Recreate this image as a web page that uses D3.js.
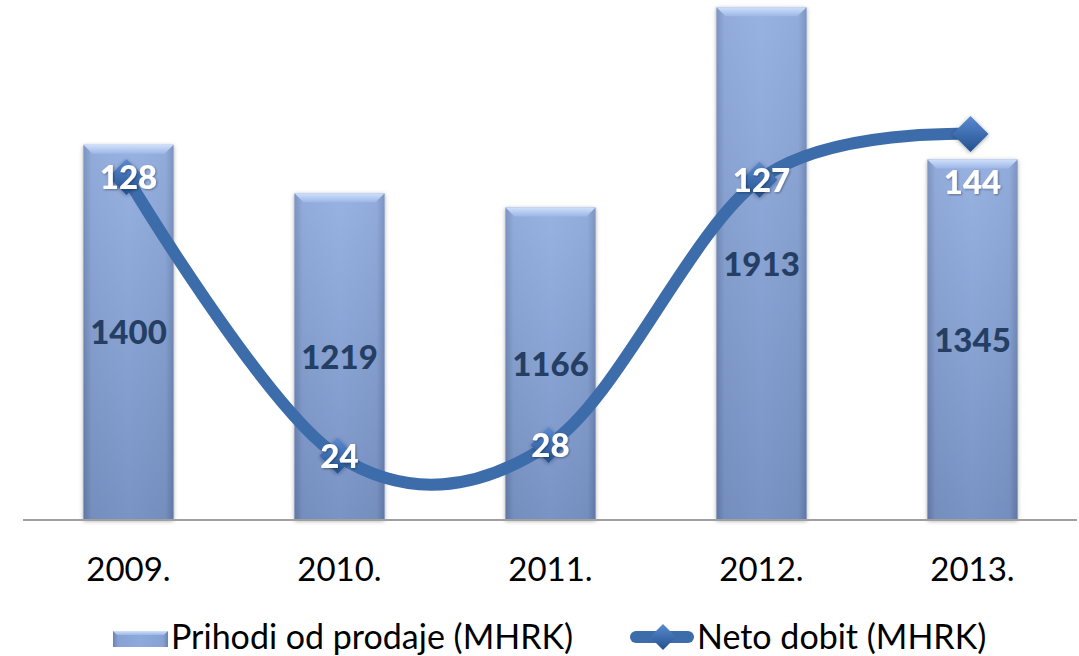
<!DOCTYPE html>
<html>
<head>
<meta charset="utf-8">
<script src="https://cdn.jsdelivr.net/npm/d3@7"></script>
<style>
  body { margin: 0; background: #fff; }
  text { font-family: Lato, "Open Sans", sans-serif; }
</style>
</head>
<body>
<script>
// chart data
const years = ["2009.", "2010.", "2011.", "2012.", "2013."];
const prihodi = [1400, 1219, 1166, 1913, 1345];
const netoDobit = [128, 24, 28, 127, 144];
const legendLabels = ["Prihodi od prodaje (MHRK)", "Neto dobit (MHRK)"];

const W = 1079, H = 656;
const svg = d3.select("body").append("svg")
    .attr("width", W)
    .attr("height", H);

const defs = svg.append("defs");

// side shading of the bars
const gSide = defs.append("linearGradient").attr("id", "barSide")
    .attr("x1", "0").attr("x2", "1").attr("y1", "0").attr("y2", "0");
gSide.append("stop").attr("offset", "0").attr("stop-color", "#6a82b0");
gSide.append("stop").attr("offset", "0.09").attr("stop-color", "#86a1d2");
gSide.append("stop").attr("offset", "0.5").attr("stop-color", "#8ea9dc");
gSide.append("stop").attr("offset", "0.91").attr("stop-color", "#86a1d2");
gSide.append("stop").attr("offset", "1").attr("stop-color", "#6a82b0");

// vertical darkening towards the base
const gVert = defs.append("linearGradient").attr("id", "barVert")
    .attr("x1", "0").attr("x2", "0").attr("y1", "0").attr("y2", "1");
gVert.append("stop").attr("offset", "0").attr("stop-color", "#b5cbf2").attr("stop-opacity", 0.25);
gVert.append("stop").attr("offset", "1").attr("stop-color", "#3d5380").attr("stop-opacity", 0.25);

const gTop = defs.append("linearGradient").attr("id", "barTop")
    .attr("x1", "0").attr("x2", "0").attr("y1", "0").attr("y2", "1");
gTop.append("stop").attr("offset", "0").attr("stop-color", "#cfe0fb");
gTop.append("stop").attr("offset", "1").attr("stop-color", "#9cb7e6");

const gDia = defs.append("linearGradient").attr("id", "dia")
    .attr("x1", "0").attr("x2", "0").attr("y1", "0").attr("y2", "1");
gDia.append("stop").attr("offset", "0").attr("stop-color", "#5a8ad0");
gDia.append("stop").attr("offset", "1").attr("stop-color", "#23518f");

const shadow = defs.append("filter").attr("id", "shadow")
    .attr("x", "-20%").attr("y", "-20%").attr("width", "140%").attr("height", "140%");
shadow.append("feDropShadow").attr("dx", 0).attr("dy", 1).attr("stdDeviation", 2)
    .attr("flood-color", "#000").attr("flood-opacity", 0.35);

const txtShadow = defs.append("filter").attr("id", "txtShadow");
txtShadow.append("feDropShadow").attr("dx", 1).attr("dy", 1).attr("stdDeviation", 1)
    .attr("flood-color", "#000").attr("flood-opacity", 0.35);

// scales
const x = d3.scaleBand().domain(years).range([23, 1078])
    .paddingInner(0.573).paddingOuter(0.2865);
const y = d3.scaleLinear().domain([0, 2000]).range([520, -16]);
const y2 = d3.scaleLinear().domain([0, 200]).range([520, -16]);

// bars
const bars = svg.append("g").selectAll("g")
    .data(prihodi)
    .enter().append("g");

bars.append("rect")
    .attr("x", (d, i) => x(years[i]))
    .attr("y", d => y(d))
    .attr("width", x.bandwidth())
    .attr("height", d => y(0) - y(d))
    .attr("fill", "url(#barSide)")
    .attr("filter", "url(#shadow)");

bars.append("rect")
    .attr("x", (d, i) => x(years[i]))
    .attr("y", d => y(d))
    .attr("width", x.bandwidth())
    .attr("height", d => y(0) - y(d))
    .attr("fill", "url(#barVert)");

// top bevel
bars.append("path")
    .attr("fill", "url(#barTop)")
    .attr("d", (d, i) => {
        const x0 = x(years[i]), x1 = x0 + x.bandwidth(), t = y(d), b = 9;
        return "M" + x0 + "," + t + "L" + x1 + "," + t + "L" + (x1 - b) + "," + (t + b) +
            "L" + (x0 + b) + "," + (t + b) + "Z";
    });

// baseline
svg.append("line")
    .attr("x1", 23).attr("x2", 1077)
    .attr("y1", y(0)).attr("y2", y(0))
    .attr("stroke", "#a0a0a0").attr("stroke-width", 2);

// bar labels
svg.append("g").selectAll("text")
    .data(prihodi)
    .enter().append("text")
    .attr("x", (d, i) => x(years[i]) + x.bandwidth() / 2)
    .attr("y", d => (y(d) + y(0)) / 2)
    .attr("dy", "0.36em")
    .attr("text-anchor", "middle")
    .attr("font-size", 33)
    .attr("font-weight", 900)
    .attr("fill", "#243f63")
    .text(d => d);

// x axis labels
svg.append("g").selectAll("text")
    .data(years)
    .enter().append("text")
    .attr("x", d => x(d) + x.bandwidth() / 2)
    .attr("y", 581)
    .attr("text-anchor", "middle")
    .attr("font-size", 33)
    .attr("fill", "#000")
    .text(d => d);

// line
const cx = (d, i) => x(years[i]) + x.bandwidth() / 2 - 2;
const line = d3.line()
    .x(cx)
    .y(d => y2(d))
    .curve(d3.curveCardinal.tension(0));

svg.append("path")
    .datum(netoDobit)
    .attr("d", line)
    .attr("fill", "none")
    .attr("stroke", "#3d6caa")
    .attr("stroke-width", 12)
    .attr("stroke-linecap", "round");

const diamond = s => "M0," + (-s) + "L" + s + ",0L0," + s + "L" + (-s) + ",0Z";

svg.append("g").selectAll("path")
    .data(netoDobit)
    .enter().append("path")
    .attr("transform", (d, i) => "translate(" + cx(d, i) + "," + y2(d) + ")")
    .attr("d", diamond(18))
    .attr("fill", "url(#dia)")
    .attr("filter", "url(#shadow)");

// line labels
svg.append("g").selectAll("text")
    .data(netoDobit)
    .enter().append("text")
    .attr("x", (d, i) => cx(d, i) + 2)
    .attr("y", (d, i) => y2(d) + (i === 4 ? 48 : 0))
    .attr("dy", "0.36em")
    .attr("text-anchor", "middle")
    .attr("font-size", 33)
    .attr("font-weight", 900)
    .attr("fill", "#fff")
    .attr("filter", "url(#txtShadow)")
    .text(d => d);

// legend
const leg = svg.append("g");
leg.append("rect")
    .attr("x", 113).attr("y", 631).attr("width", 55).attr("height", 16)
    .attr("fill", "url(#barSide)");
leg.append("path")
    .attr("d", "M113,631L168,631L164,635L117,635Z")
    .attr("fill", "url(#barTop)");
leg.append("text")
    .attr("x", 171).attr("y", 649)
    .attr("font-size", 34)
    .text(legendLabels[0]);

leg.append("line")
    .attr("x1", 636).attr("x2", 688)
    .attr("y1", 637).attr("y2", 637)
    .attr("stroke", "#3d6caa").attr("stroke-width", 12)
    .attr("stroke-linecap", "round");
leg.append("path")
    .attr("transform", "translate(663,637)")
    .attr("d", diamond(13))
    .attr("fill", "url(#dia)");
leg.append("text")
    .attr("x", 697).attr("y", 649)
    .attr("font-size", 34)
    .text(legendLabels[1]);
</script>
</body>
</html>
